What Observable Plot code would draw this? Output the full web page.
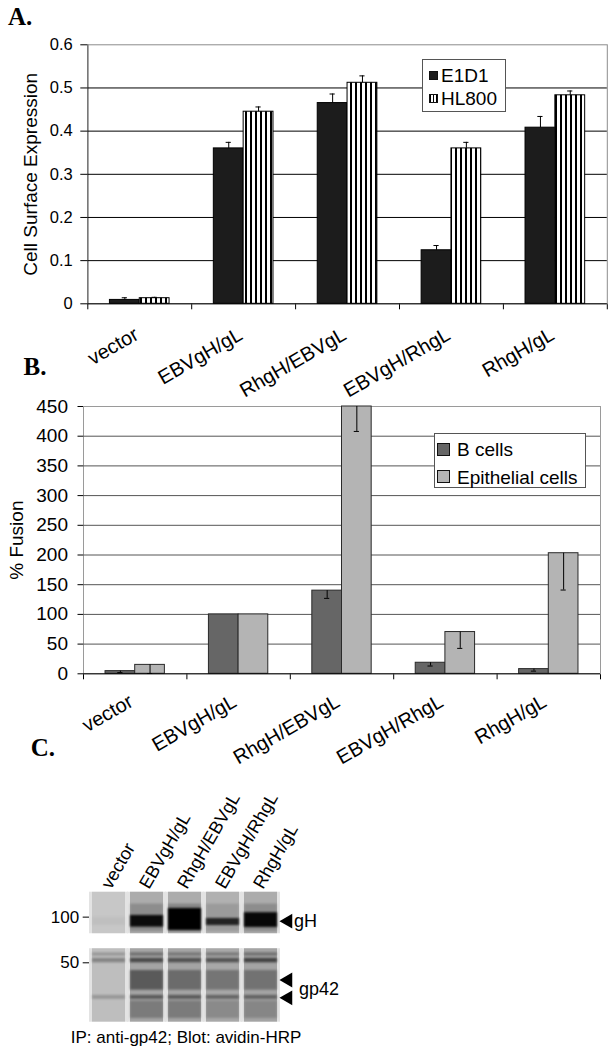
<!DOCTYPE html>
<html><head><meta charset="utf-8">
<script src="https://cdn.jsdelivr.net/npm/d3@7"></script>
<script src="https://cdn.jsdelivr.net/npm/@observablehq/plot@0.6"></script>
<style>
body{margin:0;background:#fff;}
#root{position:relative;width:614px;height:1050px;overflow:hidden;background:#fff;font-family:"Liberation Sans",Arial,sans-serif;color:#000;}
.panel{position:absolute;left:0;}
.letter{position:absolute;font-family:"Liberation Serif","Times New Roman",serif;font-weight:bold;font-size:25px;line-height:1;}
.legend{position:absolute;background:#fff;border:1px solid #555;box-sizing:border-box;}
.lt{position:absolute;font-size:19px;line-height:1;white-space:nowrap;}
.sw{position:absolute;box-sizing:border-box;border:1px solid #111;}
.cap{position:absolute;font-size:17px;line-height:1;white-space:nowrap;}
</style></head><body>
<svg width="0" height="0" style="position:absolute"><defs>
<pattern id="vstripes" patternUnits="userSpaceOnUse" width="5" height="8"><rect width="5" height="8" fill="#fff"/><rect width="2" height="8" fill="#000"/></pattern>
<filter id="soft" x="-10%" y="-50%" width="120%" height="200%"><feGaussianBlur stdDeviation="1.3"/></filter>
</defs></svg>
<div id="root"></div>
<script>
// ---------- data ----------
const categories = ["vector", "EBVgH/gL", "RhgH/EBVgL", "EBVgH/RhgL", "RhgH/gL"];
// Panel A: cell surface expression
const e1d1 = [0.009, 0.36, 0.465, 0.124, 0.408];
const e1d1Err = [0.005, 0.014, 0.021, 0.011, 0.026];
const hl800 = [0.013, 0.445, 0.512, 0.36, 0.483];
const hl800Err = [0.002, 0.011, 0.016, 0.014, 0.010];
const yTicksA = [0, 0.1, 0.2, 0.3, 0.4, 0.5, 0.6];
// Panel B: % fusion
const bCells = [4.5, 100, 140, 18.6, 7.9];
const bCellsErr = [2.5, 0, 13, 5.5, 3.4];
const epithelial = [15, 100, 470, 70.3, 203];
const epithelialErr = [14.5, 0, 62, 27.5, 62];
const yTicksB = [0, 50, 100, 150, 200, 250, 300, 350, 400, 450];
// Panel C: blot (molecular weight, kDa)
const markersKDa = [100, 50];
const upperStripKDa = [146, 77.7];
const lowerStripKDa = [61.9, 20.3];
const gHTop = [100, 102.6, 114, 98, 107];
const gHBottom = [88, 85.9, 81.7, 88, 85.5];
const gHSignal = [0.04, 0.92, 1.0, 0.78, 0.95];
const upperHazeSignal = [0.0, 0.18, 0.22, 0.12, 0.18];
const lowerBandsKDa = [[58, 55.5], [53.5, 50], [44.5, 33], [30.5, 28.7], [28, 21.5]];
const lowerSignal = [
  [0.22, 0.35, 0.3, 0.3, 0.35],
  [0.3, 0.55, 0.5, 0.5, 0.6],
  [0.0, 0.45, 0.35, 0.3, 0.3],
  [0.2, 0.45, 0.45, 0.4, 0.4],
  [0.0, 0.25, 0.25, 0.18, 0.18]
];
const laneBackground = [0.12, 0.24, 0.24, 0.22, 0.24];
const gHArrowKDa = 94;
const gp42ArrowKDa = [38.5, 29.4];

// ---------- helpers ----------
const FONT = '"Liberation Sans", Arial, sans-serif';
const root = document.getElementById("root");
function place(node, top) {
  const d = document.createElement("div");
  d.className = "panel"; d.style.top = top + "px";
  d.appendChild(node); root.appendChild(d); return d;
}
function div(cls, css, text) {
  const d = document.createElement("div");
  d.className = cls; Object.assign(d.style, css);
  if (text != null) d.textContent = text;
  root.appendChild(d); return d;
}
const barFrac = 0.287, capFrac = 0.025;

function groupedPanel(cfg) {
  const rows = categories.flatMap((c, i) => [
    {i, s: 0, v: cfg.s1[i], e: cfg.e1[i]},
    {i, s: 1, v: cfg.s2[i], e: cfg.e2[i]}
  ]);
  const left = d => d.i + 0.5 + (d.s - 1) * barFrac;
  const right = d => d.i + 0.5 + d.s * barFrac;
  const mid = d => d.i + 0.5 + (d.s - 0.5) * barFrac;
  const errRows = rows.filter(d => d.e > 0);
  const lo = d => cfg.errUp ? d.v : d.v - d.e;
  const hi = d => cfg.errUp ? d.v + d.e : d.v;
  const capY = d => cfg.errUp ? d.v + d.e : d.v - d.e;
  return Plot.plot({
    width: 614, height: cfg.height,
    marginLeft: cfg.mL, marginRight: cfg.mR, marginTop: cfg.mT, marginBottom: cfg.mB,
    style: {fontFamily: FONT, fontSize: cfg.tickFont, background: "transparent", overflow: "visible", color: "#000"},
    x: {domain: [0, 5], ticks: [0, 1, 2, 3, 4, 5], tickSize: 6, tickFormat: () => "", label: null},
    y: {domain: cfg.domain, ticks: cfg.ticks, tickSize: cfg.tickSize, tickPadding: cfg.tickPadding,
        tickFormat: cfg.fmt, label: null, line: true, clamp: true},
    marks: [
      Plot.frame({stroke: cfg.frameColor}),
      Plot.ruleY(cfg.ticks.slice(1, -1), {stroke: cfg.gridColor}),
      Plot.rectY(rows.filter(d => d.s === 0), {x1: left, x2: right, y: "v", fill: cfg.fill1, stroke: cfg.barStroke}),
      Plot.rectY(rows.filter(d => d.s === 1), {x1: left, x2: right, y: "v", fill: cfg.fill2, stroke: cfg.barStroke}),
      Plot.ruleX(errRows, {x: mid, y1: lo, y2: hi, stroke: "#000"}),
      Plot.ruleY(errRows, {y: capY, x1: d => mid(d) - capFrac, x2: d => mid(d) + capFrac, stroke: "#000"}),
      Plot.ruleY([0], {stroke: "#000"}),
      Plot.text(categories, {x: (d, i) => i + 0.5, y: cfg.domain[0], text: d => d, rotate: -30,
        textAnchor: "end", dx: cfg.lx, dy: cfg.ly, fontSize: 20}),
      Plot.text([cfg.title], {frameAnchor: "left", text: d => d, rotate: -90, textAnchor: "middle",
        dx: cfg.titleDx, fontSize: 19})
    ]
  });
}

// ---------- Panel A ----------
place(groupedPanel({
  height: 330, mL: 87.3, mR: 7.2, mT: 44.3, mB: 26.7, tickFont: "16.5px",
  s1: e1d1, e1: e1d1Err, s2: hl800, e2: hl800Err, errUp: true,
  domain: [0, 0.6], ticks: yTicksA, tickSize: 7, tickPadding: 8,
  fmt: d => d === 0 ? "0" : d.toFixed(1),
  frameColor: "#8c8c8c", gridColor: "#000", fill1: "#1c1c1c", fill2: "url(#vstripes)", barStroke: "#000",
  lx: -3, ly: 29, title: "Cell Surface Expression", titleDx: -57
}), 0);

// ---------- Panel B ----------
place(groupedPanel({
  height: 330, mL: 83, mR: 14, mT: 26, mB: 36.7, tickFont: "19px",
  s1: bCells, e1: bCellsErr, s2: epithelial, e2: epithelialErr, errUp: false,
  domain: [0, 450], ticks: yTicksB, tickSize: 5.5, tickPadding: 10,
  fmt: d => String(d),
  frameColor: "#9a9a9a", gridColor: "#555", fill1: "#666666", fill2: "#b4b4b4", barStroke: "#2a2a2a",
  lx: -4, ly: 26, title: "% Fusion", titleDx: -67
}), 380);

// ---------- Panel C (blot) ----------
const lanes = categories;
const stripRows = lanes.map((l, i) => ({l, i}));
const blot = Plot.plot({
  width: 614, height: 290, marginLeft: 90.7, marginRight: 335, marginTop: 131.7, marginBottom: 28.3,
  style: {fontFamily: FONT, fontSize: "17px", background: "transparent", overflow: "visible", color: "#000"},
  x: {domain: lanes, paddingInner: 0.13, paddingOuter: 0, axis: null},
  y: {type: "log", domain: [lowerStripKDa[1], upperStripKDa[0]], ticks: markersKDa, tickSize: 8,
      tickPadding: 4, tickFormat: d => String(d), label: null},
  marks: [
    // gel strips (gaps between lanes slightly lighter)
    Plot.barY(stripRows, {x: "l", y1: upperStripKDa[0], y2: upperStripKDa[1], fill: "#e3e3e3", insetLeft: -3, insetRight: -3}),
    Plot.barY(stripRows, {x: "l", y1: lowerStripKDa[0], y2: lowerStripKDa[1], fill: "#e3e3e3", insetLeft: -3, insetRight: -3}),
    Plot.barY(stripRows, {x: "l", y1: upperStripKDa[0], y2: upperStripKDa[1], fill: "#000", fillOpacity: d => laneBackground[d.i]}),
    Plot.barY(stripRows, {x: "l", y1: lowerStripKDa[0], y2: lowerStripKDa[1], fill: "#000", fillOpacity: d => laneBackground[d.i] + 0.04}),
    // bands
    Plot.barY(stripRows, {x: "l", y1: 122, y2: 80, fill: "#000", fillOpacity: d => upperHazeSignal[d.i], ariaDescription: "bands"}),
    Plot.barY(stripRows, {x: "l", y1: d => gHTop[d.i], y2: d => gHBottom[d.i], fill: "#000", fillOpacity: d => gHSignal[d.i], ariaDescription: "bands"}),
    ...lowerBandsKDa.map((b, k) => Plot.barY(stripRows, {x: "l", y1: b[0], y2: b[1], fill: "#000",
      fillOpacity: d => lowerSignal[k][d.i], ariaDescription: "bands"})),
    // lane labels
    Plot.text(lanes, {x: d => d, y: upperStripKDa[0], text: d => d, rotate: -60, textAnchor: "start",
      dx: -3, dy: -5, fontSize: 18}),
    // arrows
    Plot.dot([gHArrowKDa, ...gp42ArrowKDa], {x: () => lanes[4], y: d => d, symbol: "triangle", rotate: -90,
      r: 5.5, fill: "#000", stroke: null, dx: 27}),
    Plot.text(["gH"], {x: () => lanes[4], y: gHArrowKDa, text: d => d, textAnchor: "start", dx: 33, fontSize: 18}),
    Plot.text(["gp42"], {x: () => lanes[4], y: Math.sqrt(gp42ArrowKDa[0] * gp42ArrowKDa[1]), text: d => d,
      textAnchor: "start", dx: 38, fontSize: 18})
  ]
});
d3.select(blot).selectAll('[aria-description="bands"]').attr("filter", "url(#soft)");
place(blot, 760);

// ---------- legends, panel letters, caption ----------
div("legend", {left: "421.5px", top: "59.3px", width: "84px", height: "52.5px"});
div("sw", {left: "429px", top: "70.5px", width: "9px", height: "9px", background: "#1c1c1c"});
div("lt", {left: "441px", top: "65.7px"}, "E1D1");
div("sw", {left: "429px", top: "93.5px", width: "9px", height: "9px",
  background: "repeating-linear-gradient(90deg,#000 0 1.5px,#fff 1.5px 3px)"});
div("lt", {left: "441px", top: "88.5px"}, "HL800");

div("legend", {left: "433.7px", top: "432.7px", width: "152.5px", height: "55.6px"});
div("sw", {left: "437px", top: "442.5px", width: "13px", height: "13px", background: "#666"});
div("lt", {left: "457px", top: "439.7px"}, "B cells");
div("sw", {left: "437px", top: "470px", width: "13px", height: "13px", background: "#b4b4b4"});
div("lt", {left: "457px", top: "467.5px"}, "Epithelial cells");

div("letter", {left: "8px", top: "4px"}, "A.");
div("letter", {left: "23.6px", top: "353.5px"}, "B.");
div("letter", {left: "30.7px", top: "735px"}, "C.");
div("cap", {left: "70.8px", top: "1028.5px"}, "IP: anti-gp42; Blot: avidin-HRP");
</script>
</body></html>
